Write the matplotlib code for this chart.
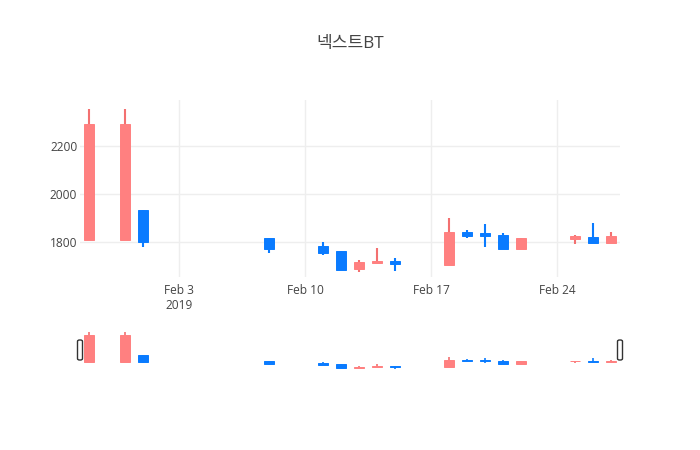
import matplotlib
matplotlib.use("Agg")
import matplotlib.pyplot as plt
import matplotlib.dates as mdates
from matplotlib.patches import Rectangle, FancyBboxPatch
import datetime as dt

title = "넥스트BT"
dates = ["2019-01-29", "2019-01-31", "2019-02-01", "2019-02-08", "2019-02-11",
         "2019-02-12", "2019-02-13", "2019-02-14", "2019-02-15", "2019-02-18",
         "2019-02-19", "2019-02-20", "2019-02-21", "2019-02-22", "2019-02-25",
         "2019-02-26", "2019-02-27"]
opens  = [1810, 1810, 1935, 1817, 1785, 1766, 1689, 1713, 1723, 1707, 1845, 1838, 1831, 1772, 1814, 1824, 1797]
highs  = [2352, 2352, 1935, 1817, 1800, 1766, 1728, 1776, 1735, 1900, 1852, 1875, 1838, 1817, 1831, 1879, 1842]
lows   = [1810, 1810, 1783, 1755, 1748, 1687, 1679, 1713, 1682, 1707, 1817, 1780, 1772, 1772, 1793, 1797, 1797]
closes = [2290, 2290, 1800, 1773, 1757, 1688, 1718, 1725, 1710, 1845, 1828, 1828, 1772, 1817, 1828, 1797, 1828]
y_ticks = [1800, 2000, 2200]
x_tick_dates = ["2019-02-03", "2019-02-10", "2019-02-17", "2019-02-24"]
x_tick_labels = ["Feb 3\n2019", "Feb 10", "Feb 17", "Feb 24"]

UP_FILL, UP_LINE = "#ff8080", "#f37070"
DN_FILL, DN_LINE = "#0a7bff", "#0a7bff"
TXT = "#444444"
GRID = "#eeeeee"

W, H = 700, 450
fig = plt.figure(figsize=(7, 4.5), dpi=100)
fig.patch.set_facecolor("white")

def px_axes(x0, y0, x1, y1):
    return fig.add_axes([x0 / W, 1 - y1 / H, (x1 - x0) / W, (y1 - y0) / H])

ax = px_axes(80, 100, 620, 277)
sl = px_axes(80, 330, 620, 370)

xd = [mdates.date2num(dt.datetime.strptime(d, "%Y-%m-%d")) for d in dates]
xmin = mdates.date2num(dt.datetime(2019, 1, 28, 12))
xmax = mdates.date2num(dt.datetime(2019, 2, 27, 12))
ymin, ymax = 1657, 2390
bw = 0.6

def draw(a, wick_lw):
    for x, o, h, l, c in zip(xd, opens, highs, lows, closes):
        up = c >= o
        fill = UP_FILL if up else DN_FILL
        line = UP_LINE if up else DN_LINE
        a.plot([x, x], [l, h], color=line, lw=wick_lw, solid_capstyle="butt", zorder=2)
        a.add_patch(Rectangle((x - bw / 2, min(o, c)), bw, abs(c - o),
                              facecolor=fill, edgecolor=fill, lw=0.7, zorder=3))
    a.set_xlim(xmin, xmax)
    a.set_ylim(ymin, ymax)
    for s in a.spines.values():
        s.set_visible(False)

draw(ax, 1.5)
draw(sl, 1.2)

ax.set_yticks(y_ticks)
ax.set_yticklabels([str(v) for v in y_ticks])
ax.set_xticks([mdates.date2num(dt.datetime.strptime(d, "%Y-%m-%d")) for d in x_tick_dates])
ax.set_xticklabels(x_tick_labels)
ax.grid(True, color=GRID, lw=1)
ax.set_axisbelow(True)
ax.tick_params(axis="both", length=0, labelsize=8.6, colors=TXT)
ax.tick_params(axis="x", pad=5)
ax.tick_params(axis="y", pad=2)
for t in ax.get_xticklabels() + ax.get_yticklabels():
    t.set_fontfamily(["Open Sans", "DejaVu Sans"])
    t.set_linespacing(1.25)

sl.set_xticks([])
sl.set_yticks([])

# range slider handles
for hx in (80, 620):
    fig.patches.append(FancyBboxPatch(((hx - 2.5) / W, 1 - 360 / H), 5 / W, 20 / H,
                                      boxstyle="round,pad=0,rounding_size=0.003",
                                      transform=fig.transFigure, facecolor="white",
                                      edgecolor="#333333", lw=1.0, zorder=5))

fig.text(350 / W, 1 - 44 / H, title, ha="center", va="center", fontsize=12.3,
         color=TXT, family=["Open Sans", "Noto Sans CJK KR", "DejaVu Sans"])

fig.savefig("out.png", dpi=100, facecolor="white")
